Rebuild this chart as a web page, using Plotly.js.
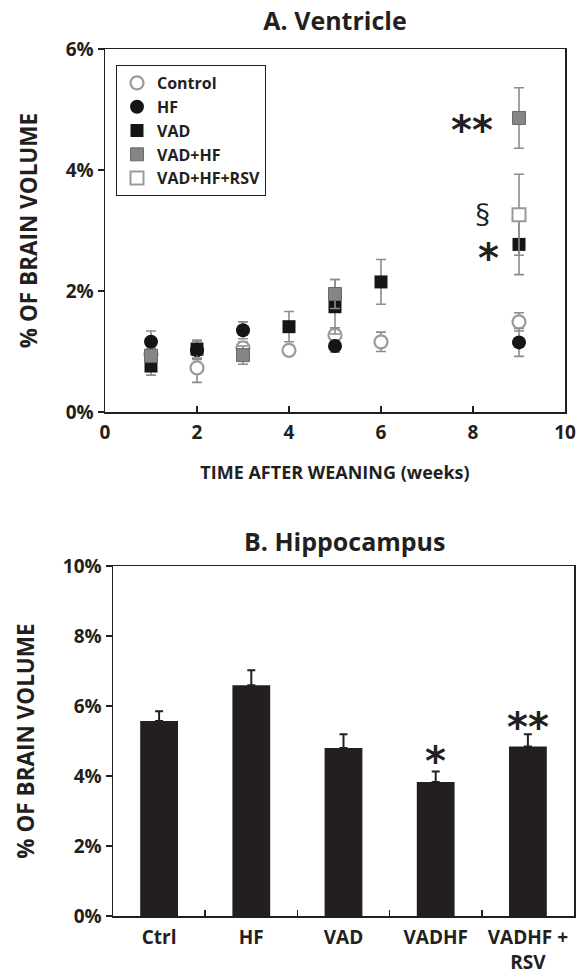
<!DOCTYPE html>
<html>
<head>
<meta charset="utf-8">
<script src="https://cdn.plot.ly/plotly-3.0.1.min.js"></script>
<style>html,body{margin:0;padding:0;background:#fff;}#chart{width:578px;height:974px;}</style>
</head>
<body>
<div id="chart"></div>
<script>
// ---- Panel A: Ventricle (% of brain volume) ----
const weeks = [1, 2, 3, 4, 5, 6, 9];
const controlVals = [0.95, 0.73, 1.06, 1.02, 1.27, 1.16, 1.49];
const controlErr  = [0.10, 0.24, 0.10, 0.08, 0.12, 0.16, 0.15];
const hfVals      = [1.16, 1.02, 1.35, null, 1.09, null, 1.15];
const hfErr       = [0.18, 0.15, 0.14, 0,    0.10, 0,    0.23];
const vadVals     = [0.76, 1.04, null, 1.41, 1.74, 2.15, 2.77];
const vadErr      = [0.15, 0.15, 0,    0.25, 0.45, 0.37, 0.50];
const vadhfVals   = [0.93, null, 0.94, null, 1.95, null, 4.86];
const vadhfErr    = [0.10, 0,    0.15, 0,    0.24, 0,    0.50];
const rsvVals     = [null, null, null, null, null, null, 3.26];
const rsvErr      = [0,    0,    0,    0,    0,    0,    0.67];
const seriesNames = ['Control', 'HF', 'VAD', 'VAD+HF', 'VAD+HF+RSV'];
const xTicksA = [0, 2, 4, 6, 8, 10];

// ---- Panel B: Hippocampus ----
const groups = ['Ctrl', 'HF', 'VAD', 'VADHF', 'VADHF +<br>RSV'];
const hippoVals = [5.57, 6.59, 4.80, 3.83, 4.84];
const hippoErr  = [0.28, 0.43, 0.39, 0.30, 0.35];

const W = 578, H = 974;
const px = v => v / W;
const py = v => 1 - v / H;
const FONT = '"Open Sans", Lato, sans-serif';
const INK = '#231f20';
const ERRC = '#8c8c8c';

function errA(arr) {
  return {type: 'data', array: arr, visible: true, color: ERRC, thickness: 1.6, width: 5};
}

const traces = [
  {x: weeks, y: controlVals, error_y: errA(controlErr), name: seriesNames[0], type: 'scatter', mode: 'markers',
   marker: {symbol: 'circle', size: 13, color: '#ffffff', line: {color: '#9a9a9a', width: 2.2}}, xaxis: 'x', yaxis: 'y'},
  {x: weeks, y: hfVals, error_y: errA(hfErr), name: seriesNames[1], type: 'scatter', mode: 'markers',
   marker: {symbol: 'circle', size: 14, color: '#151515', line: {color: '#151515', width: 0}}, xaxis: 'x', yaxis: 'y'},
  {x: weeks, y: vadVals, error_y: errA(vadErr), name: seriesNames[2], type: 'scatter', mode: 'markers',
   marker: {symbol: 'square', size: 13, color: '#151515', line: {color: '#151515', width: 0}}, xaxis: 'x', yaxis: 'y'},
  {x: weeks, y: vadhfVals, error_y: errA(vadhfErr), name: seriesNames[3], type: 'scatter', mode: 'markers',
   marker: {symbol: 'square', size: 13, color: '#858585', line: {color: '#6a6a6a', width: 1}}, xaxis: 'x', yaxis: 'y'},
  {x: weeks, y: rsvVals, error_y: errA(rsvErr), name: seriesNames[4], type: 'scatter', mode: 'markers',
   marker: {symbol: 'square', size: 13, color: '#ffffff', line: {color: '#9a9a9a', width: 2}}, xaxis: 'x', yaxis: 'y'},
  {x: groups, y: hippoVals, type: 'bar', name: 'Hippocampus', showlegend: false, width: 0.41,
   marker: {color: INK, line: {width: 0}},
   error_y: {type: 'data', array: hippoErr, arrayminus: hippoVals.map(() => 0), symmetric: false,
             visible: true, color: INK, thickness: 2, width: 4},
   xaxis: 'x2', yaxis: 'y2'}
];

const tickFont = {family: FONT, size: 19, color: INK, weight: 'bold'};
const axisTitleFont = {family: FONT, size: 22.5, color: INK, weight: 'bold'};
const lineCommon = {showline: true, linecolor: INK, linewidth: 1.5, mirror: true, showgrid: false, zeroline: false,
                    tickcolor: INK, tickwidth: 1.5, tickfont: tickFont};
const starFont = {family: '"DejaVu Sans"', size: 40, color: INK, weight: 'bold'};

const layout = {
  width: W, height: H,
  margin: {l: 0, r: 0, t: 0, b: 0},
  paper_bgcolor: '#ffffff', plot_bgcolor: '#ffffff',
  font: {family: FONT, color: INK},
  title: {text: 'A. Ventricle', x: px(335), y: py(21), xanchor: 'center', yanchor: 'middle',
          font: {family: FONT, size: 25, color: INK, weight: 'bold'}},
  showlegend: true,
  legend: {x: px(116), y: py(65), xanchor: 'left', yanchor: 'top', bgcolor: '#ffffff',
           bordercolor: INK, borderwidth: 1, font: {family: FONT, size: 16, color: INK, weight: 'bold'},
           tracegroupgap: 0, itemwidth: 30},
  xaxis: Object.assign({}, lineCommon, {domain: [px(105), px(565)], range: [0, 10], tickvals: xTicksA,
          ticks: 'inside', ticklen: 6, anchor: 'y', ticklabelstandoff: 3,
          title: {text: 'TIME AFTER WEANING (weeks)', standoff: 22, font: {family: FONT, size: 18, color: INK, weight: 'bold'}}}),
  yaxis: Object.assign({}, lineCommon, {domain: [py(412), py(49)], range: [0, 6], dtick: 2, ticksuffix: '%',
          ticks: 'outside', ticklen: 6, anchor: 'x',
          title: {text: '% OF BRAIN VOLUME', standoff: 22, font: axisTitleFont}}),
  xaxis2: Object.assign({}, lineCommon, {domain: [px(113), px(574)], type: 'category', tickson: 'boundaries',
          ticks: 'inside', ticklen: 6, anchor: 'y2', ticklabelstandoff: 4}),
  yaxis2: Object.assign({}, lineCommon, {domain: [py(916), py(566)], range: [0, 10], dtick: 2, ticksuffix: '%',
          ticks: 'outside', ticklen: 6, anchor: 'x2',
          title: {text: '% OF BRAIN VOLUME', standoff: 22, font: axisTitleFont}}),
  annotations: [
    {text: 'B. Hippocampus', xref: 'paper', yref: 'paper', x: px(344), y: py(541), xanchor: 'center', yanchor: 'middle',
     showarrow: false, font: {family: FONT, size: 25, color: INK, weight: 'bold'}},
    {text: '**', xref: 'x', yref: 'y', x: 7.98, y: 4.82, xanchor: 'center', yanchor: 'middle', yshift: -10,
     showarrow: false, font: starFont},
    {text: '§', xref: 'x', yref: 'y', x: 8.2, y: 3.26, xanchor: 'center', yanchor: 'middle',
     showarrow: false, font: {family: FONT, size: 30, color: INK}},
    {text: '*', xref: 'x', yref: 'y', x: 8.33, y: 2.71, xanchor: 'center', yanchor: 'middle', yshift: -10,
     showarrow: false, font: starFont},
    {text: '*', xref: 'x2', yref: 'y2', x: 'VADHF', y: 4.72, xanchor: 'center', yanchor: 'middle', yshift: -10,
     showarrow: false, font: starFont},
    {text: '**', xref: 'x2', yref: 'y2', x: 'VADHF +<br>RSV', y: 5.7, xanchor: 'center', yanchor: 'middle', yshift: -10,
     showarrow: false, font: starFont}
  ]
};

Plotly.newPlot('chart', traces, layout, {staticPlot: true, displayModeBar: false});
</script>
</body>
</html>
